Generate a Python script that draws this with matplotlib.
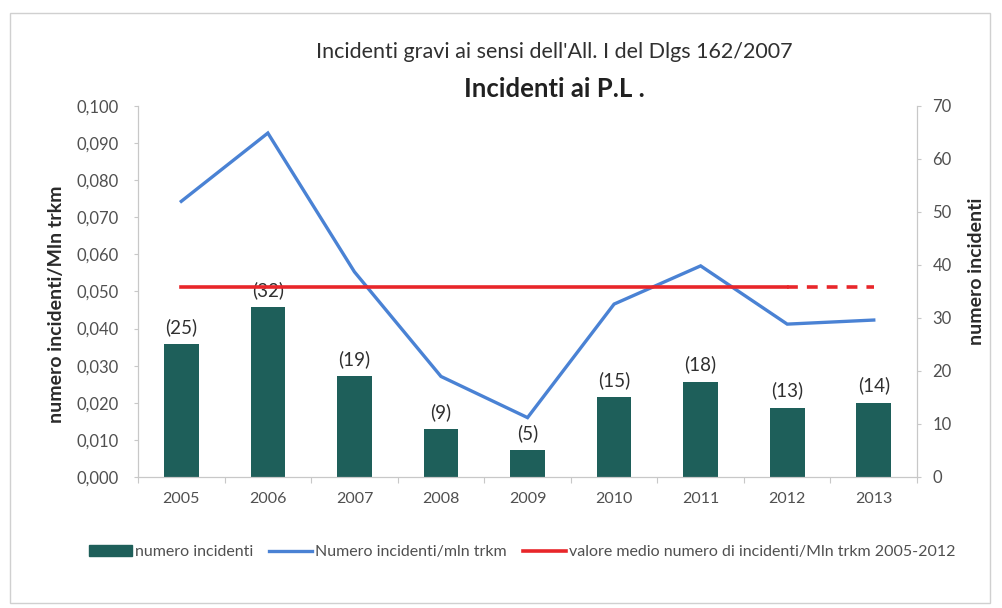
import matplotlib
matplotlib.use("Agg")
import matplotlib.pyplot as plt
from matplotlib.patches import Patch, Rectangle
from matplotlib.lines import Line2D
from matplotlib.ticker import FuncFormatter, MultipleLocator

plt.rcParams['font.family'] = ['Lato', 'DejaVu Sans']

anni = ['2005', '2006', '2007', '2008', '2009', '2010', '2011', '2012', '2013']
num_incidenti = [25, 32, 19, 9, 5, 15, 18, 13, 14]
incidenti_mln_trkm = [0.0743, 0.0927, 0.0553, 0.0271, 0.0160, 0.0466, 0.0569, 0.0412, 0.0423]
valore_medio = 0.0512  # media 2005-2012

bar_col = '#1e5f5a'
blue = '#4a82d4'
red = '#e8262a'
grey_txt = '#505050'
axis_col = '#c8c8c8'

fig = plt.figure(figsize=(10.03, 6.08), dpi=100)
ax = fig.add_axes([0.1376, 0.2155, 0.7767, 0.6102])
ax2 = ax.twinx()

x = list(range(len(anni)))

# bars on the right axis
ax2.bar(x, num_incidenti, width=0.40, color=bar_col)
for xi, v in zip(x, num_incidenti):
    ax2.text(xi, v + 1.6, f'({v})', ha='center', va='bottom', fontsize=13.5, color='#303030')
ax2.set_ylim(0, 70)
ax2.yaxis.set_major_locator(MultipleLocator(10))

# lines on the left axis, drawn above bars
ax.set_zorder(ax2.get_zorder() + 1)
ax.patch.set_visible(False)
ax.plot(x, incidenti_mln_trkm, color=blue, lw=2.4, solid_joinstyle='miter')
ax.plot(x[:8], [valore_medio] * 8, color=red, lw=2.6)
ax.plot(x[7:], [valore_medio] * 2, color=red, lw=2.6, ls=(0, (3, 2.5)))
ax.set_ylim(0, 0.1)
ax.set_xlim(-0.5, len(anni) - 0.5)
ax.yaxis.set_major_locator(MultipleLocator(0.01))
ax.yaxis.set_major_formatter(FuncFormatter(lambda v, p: f'{v:.3f}'.replace('.', ',')))

# x axis: labels at centres, tick marks at boundaries
ax.set_xticks(x)
ax.set_xticklabels(anni)
ax.set_xticks([i + 0.5 for i in range(-1, len(anni))], minor=True)
ax.tick_params(axis='x', which='major', length=0, pad=11, labelsize=11.5, labelcolor=grey_txt)
ax.tick_params(axis='x', which='minor', length=4, color=axis_col, width=0.8)
ax.tick_params(axis='y', length=3, color=axis_col, labelsize=12, labelcolor=grey_txt, pad=11)
ax2.tick_params(axis='y', length=3, color=axis_col, labelsize=12, labelcolor=grey_txt, pad=8)

for a in (ax, ax2):
    a.spines['top'].set_visible(False)
    for s in ('left', 'right', 'bottom'):
        a.spines[s].set_color(axis_col)
        a.spines[s].set_linewidth(0.8)

# titles and axis labels
fig.text(0.553, 0.914, "Incidenti gravi ai sensi dell'All. I del Dlgs 162/2007",
         ha='center', va='center', fontsize=15.5, color='#303030')
fig.text(0.553, 0.853, 'Incidenti ai P.L .', ha='center', va='center',
         fontsize=18.5, fontweight='bold', color='#202020')
fig.text(0.056, 0.50, 'numero incidenti/Mln trkm', rotation=90, ha='center', va='center',
         fontsize=14, fontweight='bold', color='#2a2a2a')
fig.text(0.974, 0.553, 'numero incidenti', rotation=90, ha='center', va='center',
         fontsize=14, fontweight='bold', color='#2a2a2a')

# legend
handles = [Patch(facecolor=bar_col, edgecolor=bar_col),
           Line2D([], [], color=blue, lw=2.4),
           Line2D([], [], color=red, lw=2.6)]
labels = ['numero incidenti', 'Numero incidenti/mln trkm',
          'valore medio numero di incidenti/Mln trkm 2005-2012']
fig.legend(handles, labels, loc='center left', bbox_to_anchor=(0.074, 0.092), ncol=3,
           frameon=False, fontsize=11.5, handlelength=2.7, handleheight=0.65,
           handletextpad=0.2, columnspacing=1.0, labelcolor=grey_txt)

# outer chart border
fig.patches.append(Rectangle((0.010, 0.008), 0.977, 0.971, transform=fig.transFigure,
                             fill=False, edgecolor='#d0d0d0', lw=1))

fig.savefig('out.png', dpi=100)
